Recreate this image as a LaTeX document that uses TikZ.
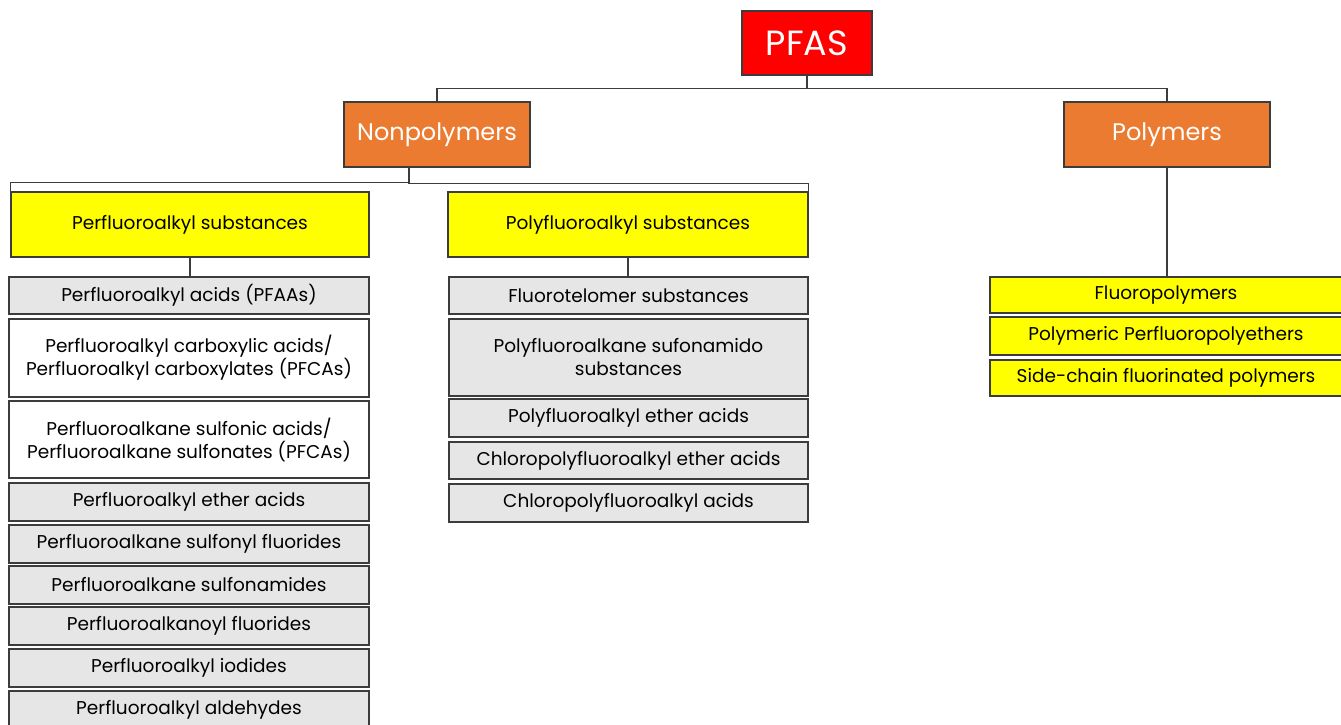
\documentclass[tikz,border=0pt]{standalone}
\usepackage{fontspec}
\setmainfont{Poppins}
\definecolor{pfasred}{HTML}{FF0000}
\definecolor{orng}{HTML}{EA7B30}
\definecolor{yel}{HTML}{FFFF00}
\definecolor{gry}{HTML}{E6E6E6}
\definecolor{edge}{HTML}{3C3C3C}
\tikzset{
  base/.style={draw=edge, line width=1.3pt, inner sep=2pt, align=center, font=\fontsize{18.5}{23}\selectfont},
  redbox/.style={base, fill=pfasred, text=white, font=\fontsize{35}{40}\selectfont},
  orbox/.style={base, fill=orng, text=white, font=\fontsize{24}{28}\selectfont},
  yelbox/.style={base, fill=yel},
  grybox/.style={base, fill=gry},
  whbox/.style={base, fill=white},
  conn/.style={draw=edge, line width=1.3pt},
}
\begin{document}
\begin{tikzpicture}[x=1pt, y=-1pt]
\useasboundingbox (0,0) rectangle (1341,724);
% top levels
\node[redbox, minimum width=130pt, minimum height=64pt] (pfas) at (807,43) {PFAS};
\node[orbox, minimum width=186pt, minimum height=65pt] (nonpoly) at (437,134.5) {Nonpolymers};
\node[orbox, minimum width=206pt, minimum height=65pt] (poly) at (1167,134.5) {Polymers};
% second level
\node[yelbox, minimum width=358pt, minimum height=65pt] (perfl) at (190,224.5) {Perfluoroalkyl substances};
\node[yelbox, minimum width=360pt, minimum height=65pt] (polyfl) at (628,224.5) {Polyfluoroalkyl substances};
% left column
\node[grybox, minimum width=360pt, minimum height=37pt] (l1) at (189,295.5) {Perfluoroalkyl acids (PFAAs)};
\node[whbox, minimum width=360pt, minimum height=78pt] (l2) at (189,358) {Perfluoroalkyl carboxylic acids/\\Perfluoroalkyl carboxylates (PFCAs)};
\node[whbox, minimum width=360pt, minimum height=77pt] (l3) at (189,439.5) {Perfluoroalkane sulfonic acids/\\Perfluoroalkane sulfonates (PFCAs)};
\node[grybox, minimum width=360pt, minimum height=38pt] (l4) at (189,502) {Perfluoroalkyl ether acids};
\node[grybox, minimum width=360pt, minimum height=38pt] (l5) at (189,544) {Perfluoroalkane sulfonyl fluorides};
\node[grybox, minimum width=360pt, minimum height=38pt] (l6) at (189,585) {Perfluoroalkane sulfonamides};
\node[grybox, minimum width=360pt, minimum height=38pt] (l7) at (189,626) {Perfluoroalkanoyl fluorides};
\node[grybox, minimum width=360pt, minimum height=38pt] (l8) at (189,668) {Perfluoroalkyl iodides};
\node[grybox, minimum width=360pt, minimum height=38pt] (l9) at (189,710) {Perfluoroalkyl aldehydes};
% middle column
\node[grybox, minimum width=359pt, minimum height=37pt] (m1) at (628.5,295.5) {Fluorotelomer substances};
\node[grybox, minimum width=359pt, minimum height=77pt] (m2) at (628.5,357.5) {Polyfluoroalkane sufonamido\\substances};
\node[grybox, minimum width=359pt, minimum height=38pt] (m3) at (628.5,418) {Polyfluoroalkyl ether acids};
\node[grybox, minimum width=359pt, minimum height=37pt] (m4) at (628.5,460.5) {Chloropolyfluoroalkyl ether acids};
\node[grybox, minimum width=359pt, minimum height=38pt] (m5) at (628.5,503) {Chloropolyfluoroalkyl acids};
% right column
\node[yelbox, minimum width=352pt, minimum height=36pt] (r1) at (1166,295) {Fluoropolymers};
\node[yelbox, minimum width=352pt, minimum height=38pt] (r2) at (1166,336) {Polymeric Perfluoropolyethers};
\node[yelbox, minimum width=352pt, minimum height=36pt] (r3) at (1166,378) {Side-chain fluorinated polymers};
% connectors
\draw[conn] (pfas.south) -- ++(0,13) -| (nonpoly.north);
\draw[conn] (pfas.south) -- ++(0,13) -| (poly.north);
\draw[conn] ([xshift=-28pt]nonpoly.south) -- ++(0,15) -| (perfl.north west);
\draw[conn] ([xshift=-28pt]nonpoly.south) -- ++(0,16) -| (polyfl.north east);
\draw[conn] (perfl.south) -- (l1.north -| perfl.south);
\draw[conn] (polyfl.south) -- (m1.north -| polyfl.south);
\draw[conn] (poly.south) -- (r1.north -| poly.south);
\end{tikzpicture}
\end{document}
